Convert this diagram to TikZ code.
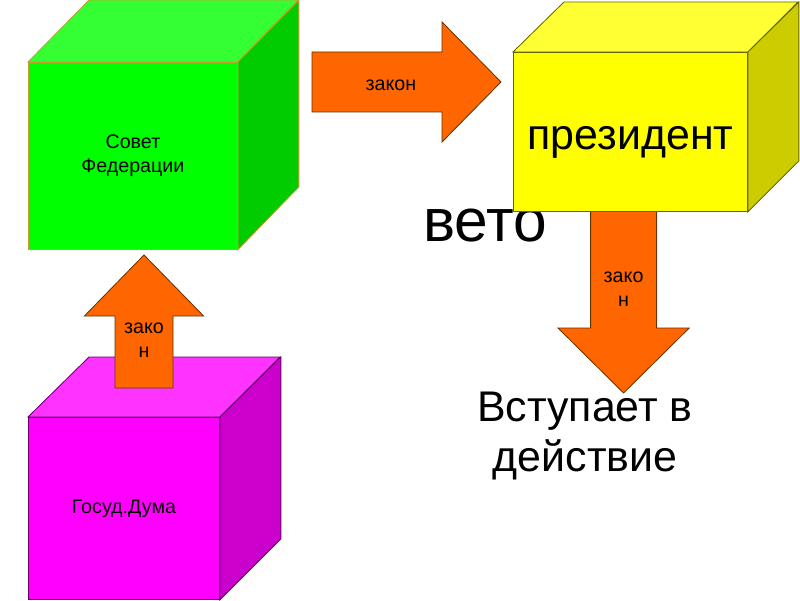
\documentclass[tikz,border=0pt]{standalone}
\usepackage{fontspec}
\setmainfont{Liberation Sans}
\usetikzlibrary{calc}
\definecolor{sffront}{HTML}{00FF00}
\definecolor{sftop}{HTML}{33FF33}
\definecolor{sfside}{HTML}{00CC00}
\definecolor{sfedge}{HTML}{CC9933}
\definecolor{prezfront}{HTML}{FFFF00}
\definecolor{preztop}{HTML}{FFFF33}
\definecolor{prezside}{HTML}{CCCC00}
\definecolor{prezedge}{HTML}{666600}
\definecolor{gdfront}{HTML}{FF00FF}
\definecolor{gdtop}{HTML}{FF33FF}
\definecolor{gdside}{HTML}{CC00CC}
\definecolor{gdedge}{HTML}{660066}
\definecolor{lawfill}{HTML}{FF6600}
\definecolor{lawedge}{HTML}{663300}

\begin{document}
\begin{tikzpicture}[line width=0.6pt,
  face/.style={draw=#1edge,fill=#1front,anchor=north west,inner sep=0pt,align=center,font=\fontsize{14}{17}\selectfont},
  topface/.style={draw=#1edge,fill=#1top},
  sideface/.style={draw=#1edge,fill=#1side},
  lawarrow/.style={draw=lawedge,fill=lawfill},
  lawtext/.style={inner sep=0pt,align=center,font=\fontsize{14}{17}\selectfont},
  bigtext/.style={inner sep=0pt,align=center,font=\fontsize{30.5}{35}\selectfont}]
\useasboundingbox (0,0) rectangle (20,15);
% veto and the last arrow lie under the president box
\node[inner sep=0pt,anchor=base,font=\fontsize{43}{50}\selectfont] (veto) at (12.125,8.95) {вето};
\draw[lawarrow] (14.765,9.9) -- (14.765,6.8) -- (13.95,6.8) -- (15.59,5.175) -- (17.23,6.8) -- (16.415,6.8) -- (16.415,9.9) -- cycle;
\node[lawtext] (zak3) at (15.59,7.775) {зако\\н};
% president
\node[face=prez,minimum width=5.85cm,minimum height=3.975cm] (prez) at (12.825,13.7) {};
\draw[topface=prez] (prez.north west) -- ++(1.275,1.25) -- ++(5.85,0) -- (prez.north east) -- cycle;
\draw[sideface=prez] (prez.north east) -- ++(1.275,1.25) -- ++(0,-3.975) -- (prez.south east) -- cycle;
\node[bigtext] (preztext) at ([yshift=-0.25cm]prez.center) {президент};
% council
\node[face=sf,minimum width=5.225cm,minimum height=4.675cm] (sf) at (0.7,13.45) {Совет\\Федерации};
\draw[topface=sf] (sf.north west) -- ++(1.525,1.55) -- ++(5.225,0) -- (sf.north east) -- cycle;
\draw[sideface=sf] (sf.north east) -- ++(1.525,1.55) -- ++(0,-4.675) -- (sf.south east) -- cycle;
\draw[lawarrow] (7.8,12.2) -- (11.05,12.2) -- (11.05,11.45) -- (12.525,12.95) -- (11.05,14.45) -- (11.05,13.7) -- (7.8,13.7) -- cycle;
\node[lawtext] (zak1) at (9.775,12.875) {закон};
% duma
\node[face=gd,minimum width=4.775cm,minimum height=4.55cm] (gd) at (0.7,4.575) {Госуд.Дума};
\draw[topface=gd] (gd.north west) -- ++(1.525,1.5) -- ++(4.775,0) -- (gd.north east) -- cycle;
\draw[sideface=gd] (gd.north east) -- ++(1.525,1.5) -- ++(0,-4.55) -- (gd.south east) -- cycle;
\draw[lawarrow] (2.875,5.3) -- (2.875,7.1) -- (2.11,7.1) -- (3.6,8.625) -- (5.09,7.1) -- (4.325,7.1) -- (4.325,5.3) -- cycle;
\node[lawtext] (zak2) at (3.6,6.5) {зако\\н};
\node[bigtext] (vd) at (14.625,4.1) {Вступает в\\действие};
\end{tikzpicture}
\end{document}
